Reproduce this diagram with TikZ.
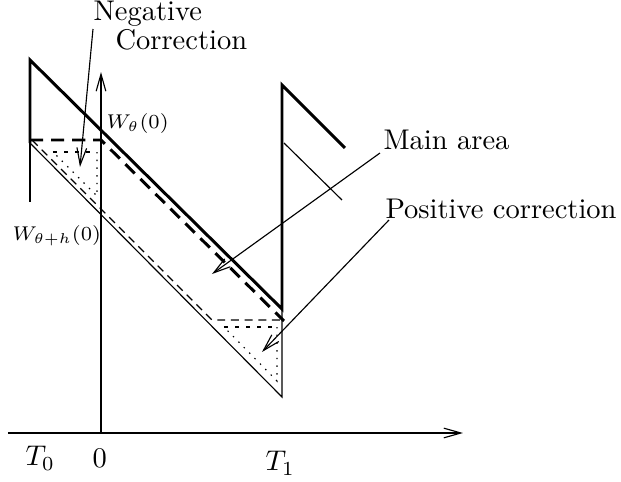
\documentclass[tikz,border=0pt]{standalone}
\usetikzlibrary{arrows.meta}
\begin{document}
\begin{tikzpicture}[x=0.351pt,y=-0.351pt,
  thinln/.style={line width=0.4pt},
  thickln/.style={line width=1.05pt},
  thickdash/.style={line width=1.05pt,dash pattern=on 4.6pt off 2.8pt},
  thindash/.style={line width=0.4pt,dash pattern=on 2.8pt off 2pt},
  thickdot/.style={line width=1.05pt,dash pattern=on 1.3pt off 2.6pt},
  thindot/.style={line width=0.4pt,dash pattern=on 0.5pt off 2.2pt},
  arr/.style={line width=0.4pt,-{Straight Barb[length=6pt,width=3.4pt]}},
  lbl/.style={inner sep=0pt,anchor=base west},
  sublbl/.style={inner sep=0pt,anchor=base west,font=\fontsize{6.6}{8}\selectfont}]
\useasboundingbox (0,0) rectangle (621,482);
% axes
\coordinate (o) at (101,433);
\coordinate (xe) at (463,433);
\coordinate (xs) at (8,433);
\coordinate (ye) at (101,72);
\draw[arr] (xs) -- (xe);
\draw[arr] (o) -- (ye);
% key points
\coordinate (a1) at (30,60);
\coordinate (a2) at (30,143);
\coordinate (a3) at (30,202);
\coordinate (b1) at (282,309);
\coordinate (b2) at (282,85);
\coordinate (b3) at (345,148);
\coordinate (b4) at (282,397);
\coordinate (c1) at (284,143);
\coordinate (c2) at (342,200);
% thick sawtooth
\draw[thickln,line join=miter] (a2) -- (a1) -- (b1) -- (b2) -- (b3);
\draw[thinln] (a2) -- (a3);
\draw[thinln] (c1) -- (c2);
% thin lower line
\draw[thinln] (a2) -- (b4) -- (b1);
% thick dashed
\coordinate (d1) at (30,140);
\coordinate (d2) at (101,140);
\coordinate (d3) at (284,321);
\draw[thickdash] (d1) -- (d2) -- (d3);
% thin dashed
\coordinate (e1) at (32,140);
\coordinate (e2) at (212,320);
\coordinate (e3) at (282,320);
\draw[thindash] (e1) -- (e2) -- (e3);
% left dotted triangle
\coordinate (f1) at (53,152);
\coordinate (f2) at (97,152);
\coordinate (f3) at (97,196);
\draw[thickdot] (f1) -- (f2);
\draw[thindot] (f2) -- (f3) -- (f1);
% right dotted triangle
\coordinate (g1) at (224,327);
\coordinate (g2) at (277,327);
\coordinate (g3) at (277,381);
\draw[thickdot] (g1) -- (g2);
\draw[thindot] (g2) -- (g3) -- (g1);
% labels
\node[lbl] (neg) at (93,20) {Negative};
\node[lbl] (cor) at (115,49) {Correction};
\node[lbl] (main) at (383,149) {Main area};
\node[lbl] (pos) at (385,218) {Positive correction};
\node[sublbl] (w0) at (106,128) {$W_{\theta}(0)$};
\node[sublbl] (wh) at (12,240) {$W_{\theta+h}(0)$};
\node[lbl] (t0) at (25,466) {$T_0$};
\node[lbl] (zero) at (92,468) {$0$};
\node[lbl] (t1) at (265,471) {$T_1$};
% annotation arrows
\coordinate (negs) at (93,29);
\coordinate (negt) at (80,167);
\coordinate (mains) at (380,153);
\coordinate (maint) at (212,274);
\coordinate (poss) at (389,220);
\coordinate (post) at (262,352);
\draw[arr] (negs) -- (negt);
\draw[arr] (mains) -- (maint);
\draw[arr] (poss) -- (post);
\end{tikzpicture}
\end{document}
